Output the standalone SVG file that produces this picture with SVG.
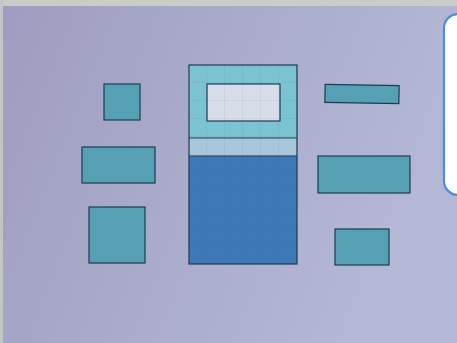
<svg xmlns="http://www.w3.org/2000/svg" width="457" height="343" viewBox="0 0 457 343">
<defs>
<linearGradient id="paper" x1="0" y1="0" x2="1" y2="0.3">
<stop offset="0" stop-color="#9e9cc0"/>
<stop offset="0.5" stop-color="#aaabcb"/>
<stop offset="1" stop-color="#b4b7d6"/>
</linearGradient>
<pattern id="grid" x="189" y="65" width="18" height="18" patternUnits="userSpaceOnUse">
<path d="M18 0V18M0 18H18" fill="none" stroke="#2f5f80" stroke-opacity="0.25" stroke-width="0.6"/>
</pattern>
<style>
.piece{fill:#55a0b3;stroke:#1d3a52;stroke-width:1.2}
</style>
</defs>
<rect width="457" height="343" fill="url(#paper)"/>
<rect x="0" y="0" width="457" height="6" fill="#c9ccc8"/>
<rect x="0" y="0" width="3" height="343" fill="#c2c4c6"/>
<g id="left-small"><rect class="piece" x="104" y="84" width="36" height="36"/></g>
<g id="left-wide"><rect class="piece" x="82" y="147" width="73" height="36"/></g>
<g id="left-square"><rect class="piece" x="89" y="207" width="56" height="56"/></g>
<g id="right-thin"><rect class="piece" x="325" y="85" width="74" height="18" transform="rotate(1 362 94)"/></g>
<g id="right-wide"><rect class="piece" x="318" y="156" width="92" height="37"/></g>
<g id="right-small"><rect class="piece" x="335" y="229" width="54" height="36"/></g>
<g id="center">
<rect x="189" y="65" width="108" height="73" fill="#7cc3d2"/>
<rect x="189" y="138" width="108" height="18" fill="#a9c6da"/>
<rect x="189" y="156" width="108" height="108" fill="#3f78b6"/>
<rect x="207" y="84" width="73" height="37" fill="#d6dde8" stroke="#1d3a52" stroke-width="1.2"/>
<rect x="189" y="65" width="108" height="199" fill="url(#grid)"/>
<line x1="189" y1="138" x2="297" y2="138" stroke="#1d3a52" stroke-width="1"/>
<line x1="189" y1="156" x2="297" y2="156" stroke="#1d3a52" stroke-width="1"/>
<rect x="189" y="65" width="108" height="199" fill="none" stroke="#1d3a52" stroke-width="1.2"/>
</g>
<rect x="444" y="14" width="40" height="181" rx="14" fill="#ffffff" stroke="#4a8fd8" stroke-width="2.2"/>
</svg>
